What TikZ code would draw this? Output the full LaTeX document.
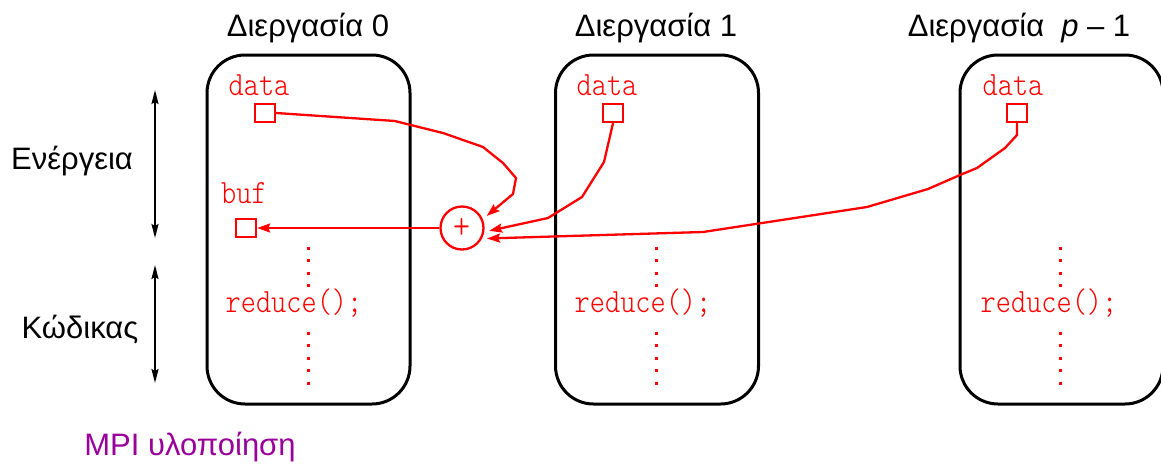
\documentclass[tikz,border=0pt]{standalone}
\usepackage{fontspec}
\setmainfont{Liberation Sans}
\newfontfamily\codefont[FakeStretch=0.85]{lmmonolt10-regular.otf}
\usetikzlibrary{arrows.meta,calc}
\definecolor{mpipurple}{RGB}{153,0,153}
\begin{document}
\begin{tikzpicture}[x=1pt,y=-1pt,
  procbox/.style={draw=black,line width=3pt,rounded corners=38pt,minimum width=203pt,minimum height=349pt,inner sep=0pt},
  title/.style={font=\fontsize{31}{34}\selectfont,anchor=base,inner sep=0pt},
  side/.style={font=\fontsize{31}{34}\selectfont,anchor=base,inner sep=0pt},
  code/.style={font=\fontsize{34}{36}\codefont,text=red,anchor=base,inner sep=0pt},
  cell/.style={draw=red,line width=2.3pt,minimum width=20pt,minimum height=18pt,inner sep=0pt},
  sumnode/.style={draw=red,line width=2.3pt,circle,minimum size=43pt,inner sep=0pt,text=red,font=\fontsize{38}{38}\codefont},
  flow/.style={draw=red,line width=2.3pt,-{Stealth[length=13pt,width=9pt,inset=2pt]}},
  span/.style={draw=black,line width=2pt,{Stealth[length=14pt,width=7pt,inset=2pt]}-{Stealth[length=14pt,width=7pt,inset=2pt]}},
  dots/.style={red,line width=3pt,dash pattern=on 3pt off 9.5pt},
]
\useasboundingbox (0,0) rectangle (1161,464);
\clip (0,0) rectangle (1161,464);

% process boxes
\node[procbox] (p0) at (308.5,229.5) {};
\node[procbox] (p1) at (657,229.5) {};
\node[procbox] (p2) at (1061.5,229.5) {};

% titles
\node[title] (t0) at (308,36) {Διεργασία 0};
\node[title] (t1) at (656,36) {Διεργασία 1};
\node[title] (t2) at (1019,36) {Διεργασία\hspace{0.55em}\textit{p} – 1};

% side labels
\node[side] (en) at (72,169) {Ενέργεια};
\node[side] (kw) at (80,338) {Κώδικας};
\coordinate (e1) at (155,90);
\coordinate (e2) at (155,238);
\coordinate (k1) at (155,265);
\coordinate (k2) at (155,383);
\draw[span] (e1) -- (e2);
\draw[span] (k1) -- (k2);

% footer
\node[side,text=mpipurple] (mpi) at (190,455) {MPI υλοποίηση};

% dotted code lines
\draw[dots] (308,246.5) -- (308,288);
\draw[dots] (308,331.5) -- (308,388);
\draw[dots] (656,246.5) -- (656,288);
\draw[dots] (656,331.5) -- (656,388);
\draw[dots] (1060,246.5) -- (1060,288);
\draw[dots] (1060,331.5) -- (1060,388);

% code text
\node[code] (r0) at (294,312) {reduce();};
\node[code] (r1) at (643,312) {reduce();};
\node[code] (r2) at (1049,312) {reduce();};

\node[code] (l0) at (259,95) {data};
\node[code] (l1) at (607,95) {data};
\node[code] (l2) at (1013,95) {data};
\node[code] (lb) at (244,203) {buf};

% cells
\node[cell] (d0) at (265,113) {};
\node[cell] (d1) at (613,113) {};
\node[cell] (d2) at (1017,113) {};
\node[cell] (buf) at (246,228) {};

% sum
\node[sumnode] (plus) at (462,228) {+};

% connectors
\draw[flow] (plus.west) -- (buf.east);
\draw[flow,shorten >=5pt] (d0.east) -- (395,121) -- (443,133) -- (483,147) -- (503,163) -- (516,178) -- (513,194) -- (plus.23);
\draw[flow,shorten >=5pt] (d1.south) -- (604,162) -- (582,197) -- (548,218) -- (plus.-10);
\draw[flow,shorten >=5pt] (d2.south) -- (1017,135) -- (1005,148) -- (977,168) -- (960,175) -- (928,189) -- (867,207) -- (703,232) -- (plus.-28);
\end{tikzpicture}
\end{document}
